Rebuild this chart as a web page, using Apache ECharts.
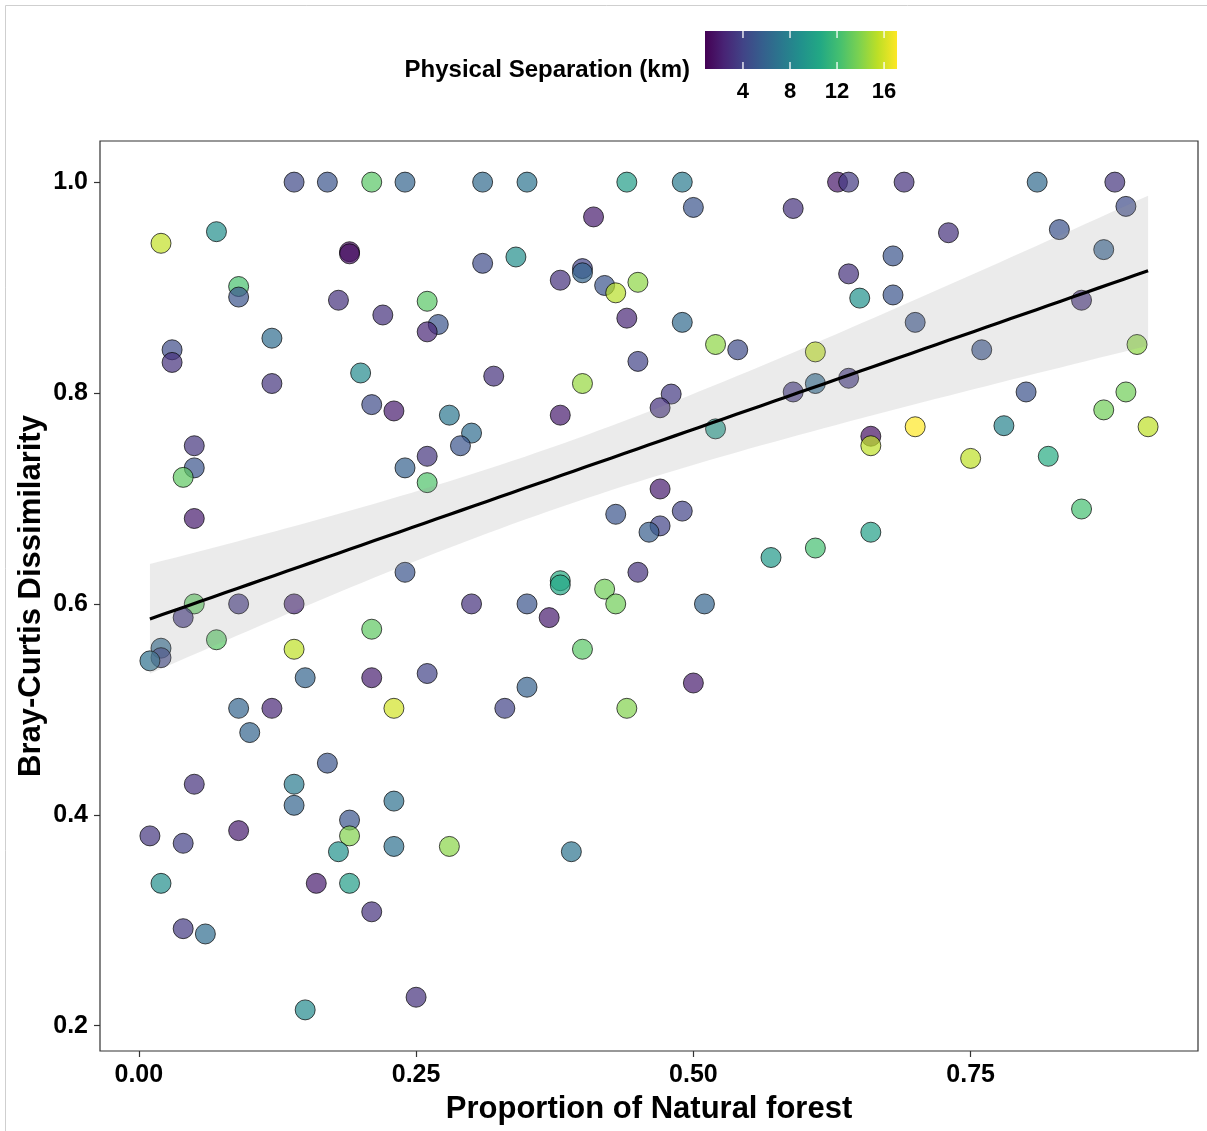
<!DOCTYPE html>
<html>
<head>
<meta charset="utf-8">
<script src="https://cdn.jsdelivr.net/npm/echarts@6/dist/echarts.min.js"></script>
<style>
  html, body { margin: 0; padding: 0; background: #ffffff; }
  #chart { width: 1207px; height: 1131px; }
</style>
</head>
<body>
<div id="chart"></div>
<script>
// Proportion of natural forest (x), Bray-Curtis dissimilarity (y), physical separation in km (colour)
const naturalForest = [
  0.14, 0.17, 0.21, 0.24, 0.31, 0.35, 0.44, 0.49, 0.63, 0.64, 0.69, 0.81, 0.88,
  0.02, 0.07, 0.19, 0.19, 0.09, 0.09, 0.18, 0.22, 0.12, 0.03, 0.03, 0.20, 0.12,
  0.21, 0.23, 0.28, 0.30, 0.29, 0.26, 0.24, 0.26, 0.05, 0.05, 0.04, 0.05,
  0.41, 0.31, 0.34, 0.38, 0.40, 0.40, 0.42, 0.43, 0.45, 0.44, 0.45, 0.26, 0.27, 0.26,
  0.32, 0.40, 0.38, 0.48, 0.47, 0.52, 0.49, 0.50, 0.52, 0.54, 0.59, 0.59, 0.61, 0.61,
  0.64, 0.64, 0.65, 0.68, 0.68, 0.70, 0.73, 0.76, 0.80, 0.78, 0.83, 0.87, 0.89, 0.85,
  0.90, 0.89, 0.87, 0.91, 0.75, 0.82, 0.85, 0.70, 0.66, 0.66, 0.66, 0.61, 0.57,
  0.47, 0.49, 0.47, 0.46, 0.43, 0.45, 0.24, 0.38, 0.38, 0.42, 0.43, 0.51, 0.30, 0.35,
  0.37, 0.40, 0.26, 0.35, 0.33, 0.23, 0.44, 0.50,
  0.05, 0.04, 0.09, 0.14, 0.07, 0.02, 0.02, 0.01, 0.14, 0.21, 0.15, 0.21, 0.09, 0.12,
  0.10, 0.17, 0.05, 0.14, 0.14, 0.19, 0.19, 0.18, 0.23, 0.23, 0.28, 0.39,
  0.01, 0.04, 0.09, 0.02, 0.16, 0.19, 0.21, 0.04, 0.06, 0.15, 0.25
];
const brayCurtis = [
  1.000, 1.000, 1.000, 1.000, 1.000, 1.000, 1.000, 1.000, 1.000, 1.000, 1.000, 1.000, 1.000,
  0.942, 0.953, 0.934, 0.932, 0.901, 0.891, 0.888, 0.874, 0.852, 0.841, 0.829, 0.819, 0.809,
  0.789, 0.783, 0.779, 0.762, 0.750, 0.740, 0.729, 0.715, 0.750, 0.729, 0.720, 0.681,
  0.967, 0.923, 0.929, 0.907, 0.918, 0.914, 0.902, 0.895, 0.905, 0.871, 0.830, 0.887, 0.865, 0.858,
  0.816, 0.809, 0.779, 0.799, 0.786, 0.766, 0.867, 0.976, 0.846, 0.841, 0.975, 0.801, 0.809, 0.839,
  0.814, 0.913, 0.890, 0.930, 0.893, 0.867, 0.952, 0.841, 0.801, 0.769, 0.955, 0.936, 0.977, 0.888,
  0.846, 0.801, 0.784, 0.768, 0.738, 0.740, 0.690, 0.768, 0.759, 0.750, 0.668, 0.653, 0.644,
  0.709, 0.688, 0.674, 0.668, 0.685, 0.630, 0.630, 0.622, 0.618, 0.614, 0.600, 0.600, 0.600, 0.600,
  0.587, 0.557, 0.534, 0.521, 0.501, 0.501, 0.501, 0.525,
  0.600, 0.587, 0.600, 0.600, 0.566, 0.558, 0.549, 0.546, 0.557, 0.576, 0.530, 0.530, 0.501, 0.501,
  0.478, 0.449, 0.429, 0.429, 0.409, 0.395, 0.380, 0.365, 0.370, 0.413, 0.370, 0.365,
  0.380, 0.373, 0.385, 0.335, 0.335, 0.335, 0.308, 0.292, 0.287, 0.215, 0.227
];
const separationKm = [
  4.3, 5.0, 12.8, 6.0, 6.3, 7.0, 9.8, 7.5, 1.8, 3.5, 3.0, 6.3, 3.2,
  15.6, 8.8, 1.2, 1.5, 12.3, 5.0, 3.0, 3.0, 6.5, 4.5, 3.0, 8.5, 3.2,
  4.5, 2.0, 7.2, 6.5, 5.0, 3.2, 5.8, 12.5, 3.2, 5.0, 13.0, 2.0,
  2.0, 4.5, 8.8, 3.0, 4.0, 6.0, 5.0, 15.3, 14.3, 2.5, 4.0, 12.8, 5.0, 2.5,
  3.0, 14.5, 2.0, 3.5, 3.0, 9.5, 6.3, 5.0, 14.3, 4.5, 3.0, 3.5, 6.3, 15.5,
  3.5, 3.0, 9.0, 5.0, 5.0, 5.0, 3.0, 5.0, 4.8, 8.0, 4.8, 5.8, 4.5, 3.0,
  14.3, 13.5, 13.5, 15.5, 15.5, 10.8, 12.2, 17.1, 1.5, 15.5, 10.0, 12.2, 9.5,
  2.0, 4.0, 4.0, 5.5, 5.0, 3.0, 5.0, 10.8, 10.5, 13.5, 13.5, 6.0, 3.0, 5.0,
  2.0, 12.8, 4.0, 5.8, 4.0, 16.0, 14.0, 2.0,
  13.0, 3.5, 3.5, 2.5, 12.8, 6.3, 4.3, 6.8, 15.5, 13.0, 6.0, 2.2, 6.0, 2.5,
  6.0, 5.0, 3.0, 7.5, 6.0, 5.0, 14.0, 9.0, 6.8, 6.8, 14.2, 7.0,
  3.3, 3.8, 2.0, 8.8, 2.0, 9.8, 3.0, 3.5, 6.5, 8.5, 3.0
];

// Axis ticks and colour-scale settings
const xTicks = [0, 0.25, 0.5, 0.75];
const yTicks = [0.2, 0.4, 0.6, 0.8, 1.0];
const kmTicks = [4, 8, 12, 16];
const kmRange = [0.77, 17.1];
const viridis = ['#440154', '#482475', '#414487', '#355f8d', '#2a788e', '#21918c',
                 '#22a884', '#44bf70', '#7ad151', '#bddf26', '#fde725'];

const FONT = '"Liberation Sans", Arial, Helvetica, sans-serif';

// Ordinary least-squares fit with a 95% confidence band
const n = naturalForest.length;
const mx = naturalForest.reduce((s, v) => s + v, 0) / n;
const my = brayCurtis.reduce((s, v) => s + v, 0) / n;
let sxx = 0, sxy = 0;
for (let i = 0; i < n; i++) {
  sxx += (naturalForest[i] - mx) ** 2;
  sxy += (naturalForest[i] - mx) * (brayCurtis[i] - my);
}
const slope = sxy / sxx;
const intercept = my - slope * mx;
let rss = 0;
for (let i = 0; i < n; i++) {
  rss += (brayCurtis[i] - (intercept + slope * naturalForest[i])) ** 2;
}
const sigma = Math.sqrt(rss / (n - 2));
const tCrit = 1.976;
const xMin = Math.min(...naturalForest);
const xMax = Math.max(...naturalForest);
const bandUpper = [], bandLower = [], fitLine = [];
for (let k = 0; k <= 80; k++) {
  const x = xMin + (xMax - xMin) * k / 80;
  const fit = intercept + slope * x;
  const se = sigma * Math.sqrt(1 / n + (x - mx) ** 2 / sxx);
  bandUpper.push([x, fit + tCrit * se]);
  bandLower.push([x, fit - tCrit * se]);
  fitLine.push([x, fit]);
}

const points = naturalForest.map((x, i) => [x, brayCurtis[i], separationKm[i]]);

const chart = echarts.init(document.getElementById('chart'), null, { renderer: 'canvas' });

const option = {
  backgroundColor: '#ffffff',
  animation: false,
  textStyle: { fontFamily: FONT },
  grid: [
    { left: 100, right: 9, top: 141, bottom: 80, show: true, borderColor: '#333333', borderWidth: 1.2, backgroundColor: 'transparent' },
    { left: 705, top: 31, width: 192, height: 38, show: false }
  ],
  xAxis: [
    {
      type: 'value', gridIndex: 0, min: -0.035, max: 0.955,
      name: 'Proportion of Natural forest', nameLocation: 'middle', nameGap: 43,
      nameTextStyle: { fontSize: 31, fontWeight: 'bold', color: '#000', fontFamily: FONT },
      axisLine: { show: false, onZero: false },
      axisTick: { show: true, customValues: xTicks, length: 6, lineStyle: { color: '#333333', width: 1.2 } },
      axisLabel: { customValues: xTicks, formatter: v => v.toFixed(2), fontSize: 25, fontWeight: 'bold', color: '#000', margin: 12, fontFamily: FONT },
      splitLine: { show: false }
    },
    {
      type: 'value', gridIndex: 1, min: kmRange[0], max: kmRange[1],
      axisLine: { show: false, onZero: false }, axisTick: { show: false }, splitLine: { show: false },
      axisLabel: { customValues: kmTicks, fontSize: 22, fontWeight: 'bold', color: '#000', margin: 12, fontFamily: FONT }
    }
  ],
  yAxis: [
    {
      type: 'value', gridIndex: 0, min: 0.176, max: 1.039,
      name: 'Bray-Curtis Dissimilarity', nameLocation: 'middle', nameGap: 53, nameMoveOverlap: false,
      nameTextStyle: { fontSize: 31, fontWeight: 'bold', color: '#000', fontFamily: FONT },
      axisLine: { show: false, onZero: false },
      axisTick: { show: true, customValues: yTicks, length: 6, lineStyle: { color: '#333333', width: 1.2 } },
      axisLabel: { customValues: yTicks, formatter: v => v.toFixed(1), fontSize: 25, fontWeight: 'bold', color: '#000', margin: 12, fontFamily: FONT },
      splitLine: { show: false }
    },
    { type: 'value', gridIndex: 1, min: 0, max: 1, show: false }
  ],
  visualMap: {
    type: 'continuous', show: false, seriesIndex: 0, dimension: 2,
    min: kmRange[0], max: kmRange[1],
    inRange: { color: viridis }
  },
  graphic: [
    {
      type: 'rect', silent: true, z: -10,
      shape: { x: 5.5, y: 5.5, width: 1220, height: 1140 },
      style: { fill: 'none', stroke: '#cfcfcf', lineWidth: 1 }
    },
    {
      type: 'text', silent: true,
      style: {
        text: 'Physical Separation (km)', x: 690, y: 70,
        align: 'right', verticalAlign: 'middle',
        fontSize: 24, fontWeight: 'bold', fontFamily: FONT, fill: '#000'
      }
    }
  ],
  series: [
    {
      type: 'scatter', xAxisIndex: 0, yAxisIndex: 0,
      data: points, symbol: 'circle', symbolSize: 20, z: 2,
      itemStyle: { opacity: 0.7, borderColor: '#000000', borderWidth: 1 }
    },
    {
      type: 'custom', xAxisIndex: 0, yAxisIndex: 0, z: 3, silent: true,
      data: [fitLine[0]],
      renderItem: function (params, api) {
        const pts = bandUpper.map(p => api.coord(p))
          .concat(bandLower.slice().reverse().map(p => api.coord(p)));
        return { type: 'polygon', shape: { points: pts }, style: { fill: 'rgba(153,153,153,0.2)' } };
      }
    },
    {
      type: 'line', xAxisIndex: 0, yAxisIndex: 0, z: 4, silent: true,
      data: fitLine, symbol: 'none', lineStyle: { color: '#000', width: 3.2 }
    },
    {
      // colour bar for the separation scale
      type: 'custom', xAxisIndex: 1, yAxisIndex: 1, silent: true,
      data: [kmRange],
      renderItem: function (params, api) {
        const p0 = api.coord([kmRange[0], 1]);
        const p1 = api.coord([kmRange[1], 0]);
        const stops = viridis.map((c, i) => ({ offset: i / (viridis.length - 1), color: c }));
        const children = [{
          type: 'rect',
          shape: { x: p0[0], y: p0[1], width: p1[0] - p0[0], height: p1[1] - p0[1] },
          style: { fill: new echarts.graphic.LinearGradient(0, 0, 1, 0, stops) }
        }];
        kmTicks.forEach(t => {
          const top = api.coord([t, 1]);
          const bot = api.coord([t, 0]);
          children.push({ type: 'line', shape: { x1: top[0], y1: top[1], x2: top[0], y2: top[1] + 7 }, style: { stroke: '#ffffff', lineWidth: 1.3 } });
          children.push({ type: 'line', shape: { x1: bot[0], y1: bot[1] - 7, x2: bot[0], y2: bot[1] }, style: { stroke: '#ffffff', lineWidth: 1.3 } });
        });
        return { type: 'group', children: children };
      }
    }
  ]
};

chart.setOption(option);
</script>
</body>
</html>
